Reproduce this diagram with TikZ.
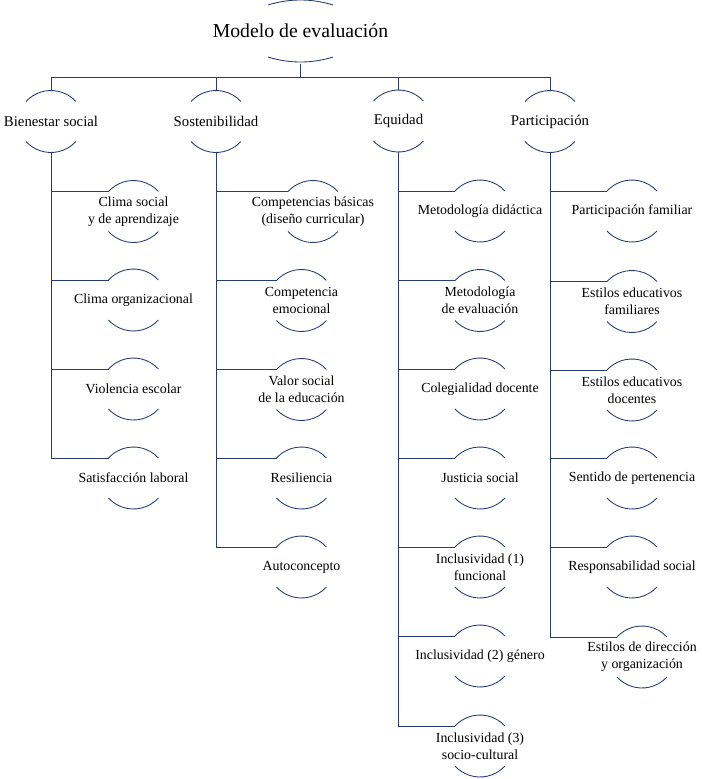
\documentclass[tikz,border=0pt]{standalone}
\usepackage{fontspec}
\setmainfont{Liberation Serif}
\usetikzlibrary{calc}
\definecolor{azul}{RGB}{38,58,118}

% arcos arriba y abajo de cada texto
\newcommand{\arcos}[1]{%
  \draw[linea] ($(#1)+(-25,20)$) coordinate (#1-l) arc[start angle=137.5, end angle=42.5, radius=25.4pt];
  \draw[linea] ($(#1)+(-25,-20)$) arc[start angle=222.5, end angle=317.5, radius=25.4pt];
  \coordinate (#1-t) at ($(#1)+(0,31)$);
  \coordinate (#1-b) at ($(#1)+(0,-31)$);
}

\begin{document}
\begin{tikzpicture}[x=0.75pt, y=0.75pt,
    linea/.style={azul, line width=0.65pt},
    titulo/.style={font=\fontsize{14.8}{17}\selectfont, inner sep=0pt},
    area/.style={font=\fontsize{11.1}{13}\selectfont, inner sep=0pt},
    item/.style={font=\fontsize{10.4}{12.7}\selectfont, align=center, inner sep=0pt}]
    \useasboundingbox (0,0) rectangle (701,-779);

    % modelo
    \node[titulo] (mod) at (300.5,-31) {Modelo de evaluación};
    \draw[linea] ($(mod)+(-32.5,26)$) arc[start angle=107.5, end angle=72.5, radius=81.1pt];
    \draw[linea] ($(mod)+(-32.5,-26)$) arc[start angle=252.5, end angle=287.5, radius=81.1pt];
    \coordinate (mod-b) at ($(mod)+(0,-33)$);
    \coordinate (barra) at ($(mod-b)+(0,-13)$);

    % areas
    \node[area] (bs) at (51,-121.5) {Bienestar social};
    \node[area] (so) at (216,-121.5) {Sostenibilidad};
    \node[area] (eq) at (398.5,-121) {Equidad};
    \node[area] (pa) at (550,-121.5) {Participación};
    \arcos{bs} \arcos{so} \arcos{eq} \arcos{pa}

    \draw[linea] (mod-b) -- (barra);
    \draw[linea] (bs-t |- barra) -- (pa-t |- barra);
    \draw[linea] (bs-t |- barra) -- (bs-t);
    \draw[linea] (so-t |- barra) -- (so-t);
    \draw[linea] (eq-t |- barra) -- (eq-t);
    \draw[linea] (pa-t |- barra) -- (pa-t);

    % bienestar social
    \node[item] (bs1) at (133.5,-211.5) {Clima social\\y de aprendizaje};
    \node[item] (bs2) at (133.5,-300) {Clima organizacional};
    \node[item] (bs3) at (133.5,-389) {Violencia escolar};
    \node[item] (bs4) at (133.5,-478) {Satisfacción laboral};
    \arcos{bs1} \arcos{bs2} \arcos{bs3} \arcos{bs4}
    \draw[linea] (bs-b) |- (bs4-l);
    \draw[linea] (bs-b |- bs1-l) -- (bs1-l);
    \draw[linea] (bs-b |- bs2-l) -- (bs2-l);
    \draw[linea] (bs-b |- bs3-l) -- (bs3-l);

    % sostenibilidad
    \node[item] (so1) at (313,-211.5) {Competencias básicas\\(diseño curricular)};
    \node[item] (so2) at (301.5,-300.5) {Competencia\\emocional};
    \node[item] (so3) at (301.5,-389.5) {Valor social\\de la educación};
    \node[item] (so4) at (301.5,-478) {Resiliencia};
    \node[item] (so5) at (301.5,-567) {Autoconcepto};
    \arcos{so1} \arcos{so2} \arcos{so3} \arcos{so4} \arcos{so5}
    \draw[linea] (so-b) |- (so5-l);
    \draw[linea] (so-b |- so1-l) -- (so1-l);
    \draw[linea] (so-b |- so2-l) -- (so2-l);
    \draw[linea] (so-b |- so3-l) -- (so3-l);
    \draw[linea] (so-b |- so4-l) -- (so4-l);

    % equidad
    \node[item] (eq1) at (480,-211) {Metodología didáctica};
    \node[item] (eq2) at (480,-300.5) {Metodología\\de evaluación};
    \node[item] (eq3) at (480,-389) {Colegialidad docente};
    \node[item] (eq4) at (480,-478) {Justicia social};
    \node[item] (eq5) at (480,-567) {Inclusividad (1)\\funcional};
    \node[item] (eq6) at (480,-656) {Inclusividad (2) género};
    \node[item] (eq7) at (480,-746) {Inclusividad (3)\\socio-cultural};
    \arcos{eq1} \arcos{eq2} \arcos{eq3} \arcos{eq4} \arcos{eq5} \arcos{eq6} \arcos{eq7}
    \draw[linea] (eq-b) |- (eq7-l);
    \draw[linea] (eq-b |- eq1-l) -- (eq1-l);
    \draw[linea] (eq-b |- eq2-l) -- (eq2-l);
    \draw[linea] (eq-b |- eq3-l) -- (eq3-l);
    \draw[linea] (eq-b |- eq4-l) -- (eq4-l);
    \draw[linea] (eq-b |- eq5-l) -- (eq5-l);
    \draw[linea] (eq-b |- eq6-l) -- (eq6-l);

    % participacion
    \node[item] (pa1) at (632,-211) {Participación familiar};
    \node[item] (pa2) at (632,-301.5) {Estilos educativos\\familiares};
    \node[item] (pa3) at (632,-390) {Estilos educativos\\docentes};
    \node[item] (pa4) at (632,-478) {Sentido de pertenencia};
    \node[item] (pa5) at (632,-567) {Responsabilidad social};
    \node[item] (pa6) at (642,-657) {Estilos de dirección\\y organización};
    \arcos{pa1} \arcos{pa2} \arcos{pa3} \arcos{pa4} \arcos{pa5} \arcos{pa6}
    \draw[linea] (pa-b) |- (pa6-l);
    \draw[linea] (pa-b |- pa1-l) -- (pa1-l);
    \draw[linea] (pa-b |- pa2-l) -- (pa2-l);
    \draw[linea] (pa-b |- pa3-l) -- (pa3-l);
    \draw[linea] (pa-b |- pa4-l) -- (pa4-l);
    \draw[linea] (pa-b |- pa5-l) -- (pa5-l);
\end{tikzpicture}
\end{document}
